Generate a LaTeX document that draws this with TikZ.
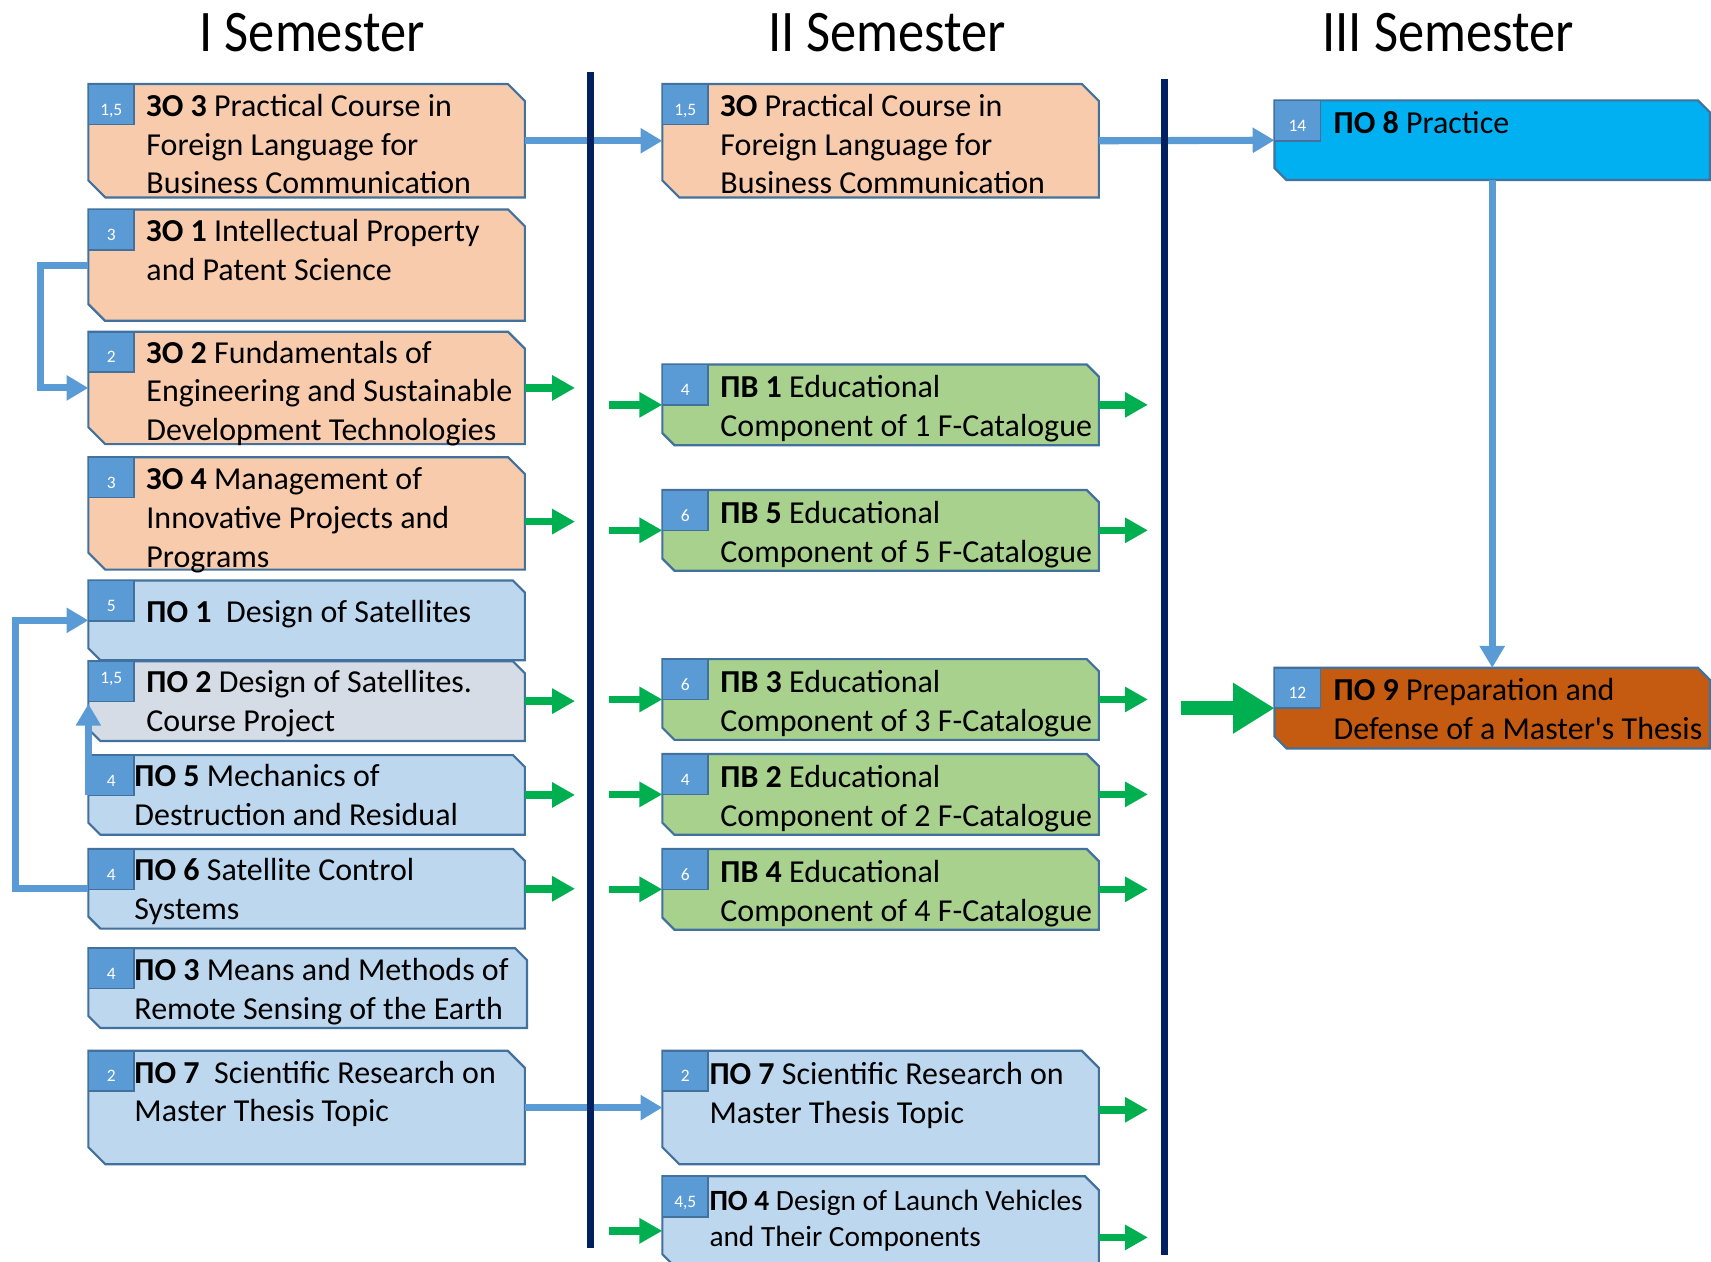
\documentclass[tikz,border=0pt]{standalone}
\usepackage{fontspec}
\usepackage{graphicx}
\setmainfont{Carlito}[Ligatures=TeXOff]
\usetikzlibrary{arrows.meta}
\definecolor{orng}{HTML}{F8CBAD}
\definecolor{lblue}{HTML}{BDD7EE}
\definecolor{gblue}{HTML}{D6DCE5}
\definecolor{grnf}{HTML}{A9D18E}
\definecolor{cyanf}{HTML}{00B0F0}
\definecolor{brn}{HTML}{C55A11}
\definecolor{badgef}{HTML}{5B9BD5}
\definecolor{bord}{HTML}{41719C}
\definecolor{bluea}{HTML}{5B9BD5}
\definecolor{grn}{HTML}{00B050}
\definecolor{navy}{HTML}{002060}
\newcommand\sx{\rule{0pt}{25pt}}
\tikzset{
  boxline/.style={draw=bord, line width=2pt, line join=miter},
  boxnode/.style={anchor=north west, inner sep=0, outer sep=0, draw=none},
  badge/.style={anchor=north west, inner sep=0, outer sep=0, minimum width=42pt, minimum height=37pt,
    fill=badgef, draw=bord, line width=1.5pt, text=white, font=\fontsize{16}{17}\selectfont},
  txt/.style={anchor=north west, yshift=25pt, inner sep=0, align=left, font=\fontsize{29.3}{35.5}\selectfont},
  txts/.style={anchor=north west, yshift=25pt, inner sep=0, align=left, font=\fontsize{26.9}{33}\selectfont},
  ttl/.style={anchor=base, inner sep=0, font=\fontsize{54}{60}\selectfont},
  divider/.style={draw=navy, line width=6.5pt},
  barrow/.style={draw=bluea, line width=6.5pt, -{Triangle[length=20pt,width=22pt]}},
  garrow/.style={draw=grn, line width=7pt, -{Triangle[length=21pt,width=22pt]}},
  bigarrow/.style={draw=grn, line width=13pt, -{Triangle[length=38pt,width=44pt]}},
}
% #1 badge drop, #2 name, #3 x1, #4 y1, #5 x2, #6 y2, #7 fill, #8 badge text
\newcommand\cbox[8][-10pt]{%
  \pgfmathsetmacro\cch{0.15*(#6-#4)}%
  \draw[boxline,fill=#7] (#3,#4) -- ({#5-\cch},#4) -- (#5,{#4+\cch}) -- (#5,#6) -- ({#3+\cch},#6) -- (#3,{#6-\cch}) -- cycle;
  \node[boxnode, minimum width={#5-#3}, minimum height={#6-#4}] (#2) at (#3,#4) {};
  \node[badge] (#2b) at (#3,#4) {\raisebox{#1}[0pt][0pt]{#8}};
}
\begin{document}
\begin{tikzpicture}[x=1pt,y=-1pt]
\useasboundingbox (0,0) rectangle (1568,1156);
\fill[white] (0,0) rectangle (1568,1156);

% titles
\node[ttl] (t1) at (286,47) {\scalebox{0.89}[1]{I Semester}};
\node[ttl] (t2) at (813,47) {\scalebox{0.89}[1]{II Semester}};
\node[ttl] (t3) at (1327,47) {\scalebox{0.89}[1]{III Semester}};

% column 1
\cbox{b1}{81}{77}{481}{181}{orng}{1,5}
\node[txt] (b1t) at (134,106.5) {\sx\textbf{ЗО 3} Practical Course in\\Foreign Language for\\Business Communication};
\cbox{b2}{81}{192}{481}{294}{orng}{3}
\node[txt] (b2t) at (134,221) {\sx\textbf{ЗО 1} Intellectual Property\\and Patent Science};
\cbox{b3}{81}{304}{481}{407}{orng}{2}
\node[txt] (b3t) at (134,332.5) {\sx\textbf{ЗО 2} Fundamentals of\\Engineering and Sustainable\\Development Technologies};
\cbox{b4}{81}{419}{481}{522}{orng}{3}
\node[txt] (b4t) at (134,448.5) {\sx\textbf{ЗО 4} Management of\\Innovative Projects and\\Programs};
\cbox{b5}{81}{532}{481}{605}{lblue}{5}
\node[txt] (b5t) at (134,570.5) {\sx\textbf{ПО 1}\ \ Design of Satellites};
\cbox[-1.5pt]{b6}{81}{606}{481}{679}{gblue}{1,5}
\node[txt] (b6t) at (134,634.5) {\sx\textbf{ПО 2} Design of Satellites.\\Course Project};
\cbox{b7}{81}{692}{481}{765}{lblue}{4}
\node[txt] (b7t) at (123,720.5) {\sx\textbf{ПО 5} Mechanics of\\Destruction and Residual};
\cbox{b8}{81}{778}{481}{851}{lblue}{4}
\node[txt] (b8t) at (123,806.5) {\sx\textbf{ПО 6} Satellite Control\\Systems};
\cbox{b9}{81}{869}{483}{942}{lblue}{4}
\node[txt] (b9t) at (123,898.5) {\sx\textbf{ПО 3} Means and Methods of\\Remote Sensing of the Earth};
\cbox{b10}{81}{963}{481}{1067}{lblue}{2}
\node[txt] (b10t) at (123,992.5) {\sx\textbf{ПО 7}\ \ Scientific Research on\\Master Thesis Topic};

% column 2
\cbox{c1}{607}{77}{1007}{181}{orng}{1,5}
\node[txt] (c1t) at (660,106.5) {\sx\textbf{ЗО} Practical Course in\\Foreign Language for\\Business Communication};
\cbox{c2}{607}{334}{1007}{408}{grnf}{4}
\node[txt] (c2t) at (660,364.5) {\sx\textbf{ПВ 1} Educational\\Component of 1 F-Catalogue};
\cbox{c3}{607}{449}{1007}{523}{grnf}{6}
\node[txt] (c3t) at (660,479.5) {\sx\textbf{ПВ 5} Educational\\Component of 5 F-Catalogue};
\cbox{c4}{607}{604}{1007}{678}{grnf}{6}
\node[txt] (c4t) at (660,634.5) {\sx\textbf{ПВ 3} Educational\\Component of 3 F-Catalogue};
\cbox{c5}{607}{691}{1007}{765}{grnf}{4}
\node[txt] (c5t) at (660,721.5) {\sx\textbf{ПВ 2} Educational\\Component of 2 F-Catalogue};
\cbox{c6}{607}{778}{1007}{852}{grnf}{6}
\node[txt] (c6t) at (660,808.5) {\sx\textbf{ПВ 4} Educational\\Component of 4 F-Catalogue};
\cbox{c7}{607}{963}{1007}{1067}{lblue}{2}
\node[txt] (c7t) at (650,993.5) {\sx\textbf{ПО 7} Scientific Research on\\Master Thesis Topic};
\cbox{c8}{607}{1078}{1007}{1162}{lblue}{4,5}
\node[txts] (c8t) at (650,1109) {\sx\textbf{ПО 4} Design of Launch Vehicles\\and Their Components};

% column 3
\cbox{p8}{1168}{92}{1567}{165}{cyanf}{14}
\node[txt] (p8t) at (1222,122.5) {\sx\textbf{ПО 8} Practice};
\cbox{p9}{1168}{612}{1567}{686}{brn}{12}
\node[txt] (p9t) at (1222,642) {\sx\textbf{ПО 9} Preparation and\\Defense of a Master's Thesis};

% blue connectors
\draw[barrow] (b1.east) -- (c1.west);
\draw[barrow] (c1.east) -- (p8.west);
\draw[barrow] (p8.south) -- (p9.north);
\draw[barrow] (b10.east) -- (c7.west);
\draw[barrow] (b2.west) -- ++(-44,0) |- (b3.west);
\draw[barrow] (b8.west) -- ++(-67,0) |- (b5.west);
\draw[barrow] (b7b.south west) -- ([yshift=-2pt]b6b.south west);

% dividers
\draw[divider] (541,66) -- (541,1144);
\draw[divider] (1067,72) -- (1067,1150);

% green arrows, column 1 out
\draw[garrow] (b3.east) -- ++(46,0);
\draw[garrow] ([yshift=-7.5pt]b4.east) -- ++(46,0);
\draw[garrow] (b6.east) -- ++(46,0);
\draw[garrow] (b7.east) -- ++(46,0);
\draw[garrow] (b8.east) -- ++(46,0);
% green arrows, column 2 in
\draw[garrow] ([xshift=-49pt]c2.west) -- (c2.west);
\draw[garrow] ([xshift=-49pt]c3.west) -- (c3.west);
\draw[garrow] ([xshift=-49pt]c4.west) -- (c4.west);
\draw[garrow] ([xshift=-49pt]c5.west) -- (c5.west);
\draw[garrow] ([xshift=-49pt]c6.west) -- (c6.west);
\draw[garrow] ([xshift=-49pt,yshift=-8pt]c8.west) -- ([yshift=-8pt]c8.west);
% green arrows, column 2 out
\draw[garrow] (c2.east) -- ++(45,0);
\draw[garrow] (c3.east) -- ++(45,0);
\draw[garrow] (c4.east) -- ++(45,0);
\draw[garrow] (c5.east) -- ++(45,0);
\draw[garrow] (c6.east) -- ++(45,0);
\draw[garrow] ([yshift=-2pt]c7.east) -- ++(45,0);
\draw[garrow] ([yshift=-14pt]c8.east) -- ++(45,0);
% big arrow into thesis
\draw[bigarrow] ([xshift=-86pt]p9.west) -- (p9.west);
\end{tikzpicture}
\end{document}
